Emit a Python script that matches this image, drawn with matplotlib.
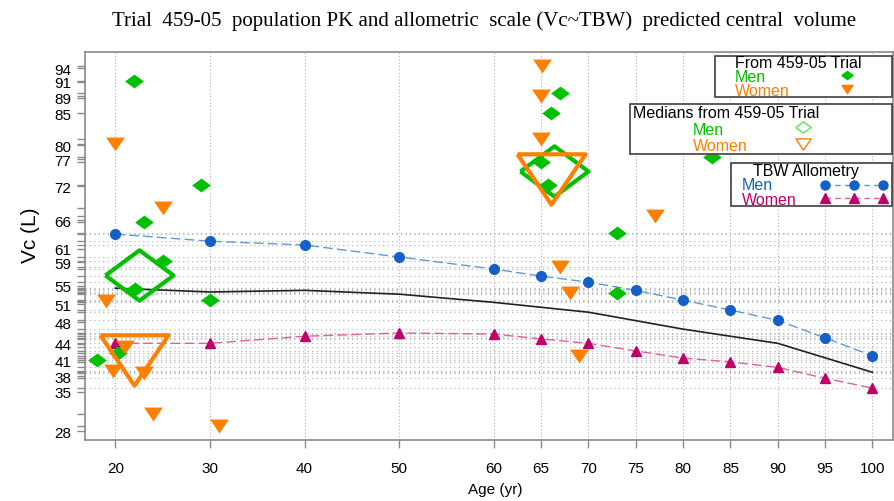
import numpy as np
import matplotlib
matplotlib.use("Agg")
import matplotlib.pyplot as plt
from matplotlib.patches import Rectangle

plt.rcParams['font.family'] = ['Liberation Sans', 'DejaVu Sans']

# TBW allometry predictions
ages_tbw = [20, 30, 40, 50, 60, 65, 70, 75, 80, 85, 90, 95, 100]
tbw_men = [63.7, 62.4, 61.7, 59.5, 57.3, 56.0, 54.9, 53.4, 51.6, 49.8, 47.9, 44.7, 41.4]
tbw_women = [43.7, 43.7, 45.0, 45.6, 45.4, 44.5, 43.7, 42.3, 41.0, 40.3, 39.3, 37.3, 35.5]

# population PK typical value curve
ages_fit = [20, 30, 40, 50, 60, 70, 80, 90, 100]
vc_fit = [53.8, 53.1, 53.4, 52.7, 51.2, 49.4, 46.3, 43.7, 38.4]

# individual estimates, trial 459-05
men_age = [18.1, 20.3, 22.0, 22.1, 23.0, 25.0, 29.1, 30.0, 65.0, 65.7, 66.0, 67.0, 73.0, 73.0, 83.0]
men_vc = [40.6, 41.9, 91.7, 53.6, 65.9, 58.7, 72.6, 51.6, 76.9, 72.6, 85.8, 89.5, 63.9, 52.9, 77.8]
women_age = [19.0, 20.0, 19.8, 21.0, 23.0, 24.0, 25.0, 31.0, 65.0, 65.0, 65.1, 67.0, 68.0, 69.0, 77.0]
women_vc = [51.4, 80.2, 38.6, 43.0, 38.2, 30.7, 68.4, 28.5, 81.1, 88.9, 94.4, 57.6, 52.9, 41.4, 67.0]

# medians by age group
med_men_age = [22.5, 66.4]
med_men_vc = [56.2, 75.2]
med_women_age = [22.0, 66.0]
med_women_vc = [40.6, 73.7]

x_ticks = [20, 30, 40, 50, 60, 65, 70, 75, 80, 85, 90, 95, 100]
# labelled y ticks sit on selected data values, printed rounded
y_label_pos = [27.6, 34.8, 37.7, 40.6, 43.6, 47.6, 50.9, 54.2, 58.5, 61.0,
               66.2, 72.5, 77.4, 80.0, 85.8, 88.7, 91.6, 94.1]
y_label_txt = ['28', '35', '38', '41', '44', '48', '51', '55', '59', '61',
               '66', '72', '77', '80', '85', '89', '91', '94']

GREEN = '#00c000'
ORANGE = '#ff7f00'
BLUE = '#1560c8'
BLUE_LINE = '#5b9bd5'
MAGENTA = '#c0006a'
PINK = '#e0609a'
GRAY = '#8a8a8a'

# wide markers
diamond = [(-1.35, 0), (0, 1), (1.35, 0), (0, -1), (-1.35, 0)]
tri_down = [(-1.35, 1), (1.35, 1), (0, -1), (-1.35, 1)]

fig = plt.figure(figsize=(8.95, 5.02), dpi=100)
ax = fig.add_axes([0.095, 0.1215, 0.903, 0.7725])

ax.set_xlim(16.8, 102.2)
ax.set_ylim(26.0, 97.0)

# rug ticks at every value on the y axis, grid in the dense band
rug = sorted(set(men_vc + women_vc + tbw_men + tbw_women + vc_fit))
ax.set_yticks(y_label_pos)
ax.set_yticklabels(y_label_txt)
ax.set_yticks(rug, minor=True)
for v in rug:
    if 34 < v < 65:
        ax.axhline(v, color='#b0b0b0', lw=0.8, ls=(0, (1, 3)), zorder=0)
for x in x_ticks:
    ax.axvline(x, color='#b0b0b0', lw=0.8, ls=(0, (1, 2)), zorder=0)

ax.set_xticks(x_ticks)
ax.tick_params(axis='both', which='both', direction='out', length=6, width=1,
               color=GRAY, labelsize=11)
ax.tick_params(axis='y', pad=4)
ax.tick_params(axis='x', pad=9)
for s in ax.spines.values():
    s.set_color(GRAY)
    s.set_linewidth(1.2)

ax.plot(ages_fit, vc_fit, color='#222222', lw=1.2, zorder=2)
ax.plot(ages_tbw, tbw_men, color=BLUE_LINE, lw=1.0, ls=(0, (7, 3)), zorder=2)
ax.plot(ages_tbw, tbw_men, ls='none', marker='o', ms=7, color=BLUE, zorder=3)
ax.plot(ages_tbw, tbw_women, color=PINK, lw=1.0, ls=(0, (7, 3)), zorder=2)
ax.plot(ages_tbw, tbw_women, ls='none', marker='^', ms=6.5, color=MAGENTA, zorder=3)

ax.plot(men_age, men_vc, ls='none', marker=diamond, ms=13.5, color=GREEN, mec='none', zorder=4)
ax.plot(women_age, women_vc, ls='none', marker=tri_down, ms=13.5, color=ORANGE, mec='none', zorder=4)

ax.plot(med_men_age, med_men_vc, ls='none', marker=diamond, ms=49, mfc='none',
        mec=GREEN, mew=3, zorder=5)
ax.plot(med_women_age, med_women_vc, ls='none', marker=tri_down, ms=49, mfc='none',
        mec=ORANGE, mew=3, zorder=5)

ax.set_ylabel('Vc (L)', fontsize=15)
ax.yaxis.set_label_coords(-0.056, 0.53)
ax.set_xlabel('Age (yr)', fontsize=11)
ax.xaxis.set_label_coords(0.507, -0.108)
fig.suptitle('Trial  459-05  population PK and allometric  scale (Vc~TBW)  predicted central  volume',
             family='Liberation Serif', fontsize=15, x=0.541, y=0.978)

# key boxes drawn on a pixel-space overlay
key = fig.add_axes([0, 0, 1, 1], zorder=10)
key.set_xlim(0, 895)
key.set_ylim(502, 0)
key.axis('off')
FS = 11.5


def key_box(x0, y0, x1, y1, title, tx, ty):
    key.add_patch(Rectangle((x0, y0), x1 - x0, y1 - y0, fc='white',
                            ec='#404040', lw=1.2))
    key.text(tx, ty, title, fontsize=FS, va='center', ha='left', color='black')


def key_row(x, y, label, color):
    key.text(x, y, label, fontsize=FS, va='center', ha='left', color=color)


key_box(715, 57, 892, 98, 'From 459-05 Trial', 735, 64)
key_row(735, 78, 'Men', GREEN)
key_row(735, 92, 'Women', ORANGE)
key.plot([847], [76], marker=diamond, ms=8, color=GREEN, ls='none')
key.plot([847], [90], marker=tri_down, ms=8, color=ORANGE, ls='none')

key_box(630, 105, 892, 155, 'Medians from 459-05 Trial', 633, 114)
key_row(693, 131, 'Men', GREEN)
key_row(693, 147, 'Women', ORANGE)
key.plot([803], [128], marker=diamond, ms=11, mfc='none', mec='#60e060', mew=1, ls='none')
key.plot([803], [145], marker=tri_down, ms=11, mfc='none', mec=ORANGE, mew=1, ls='none')

key_box(731, 164, 892, 207, 'TBW Allometry', 753, 172)
key_row(742, 186, 'Men', BLUE)
key_row(742, 201, 'Women', MAGENTA)
key.plot([825, 854, 883], [186] * 3, color=BLUE_LINE, lw=1, ls=(0, (4, 3)),
         marker='o', ms=6.5, mfc=BLUE, mec=BLUE)
key.plot([825, 854, 883], [199] * 3, color=PINK, lw=1, ls=(0, (4, 3)),
         marker='^', ms=6.5, mfc=MAGENTA, mec=MAGENTA)

fig.savefig('out.png', dpi=100)
